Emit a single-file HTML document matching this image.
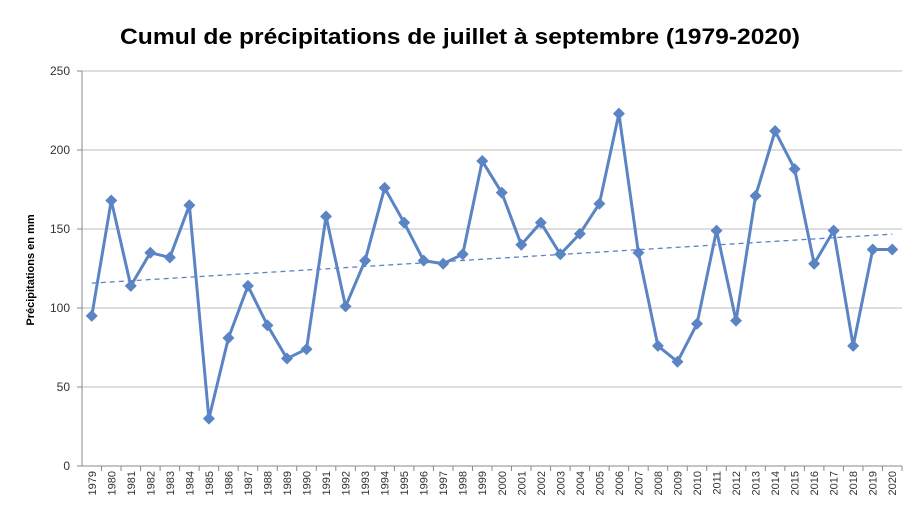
<!DOCTYPE html>
<html><head><meta charset="utf-8"><style>
body{margin:0;background:#fff;}
svg{display:block;font-family:"Liberation Sans",sans-serif;}
</style></head><body>
<svg id="chart" width="920" height="518" viewBox="0 0 920 518">
<rect x="0" y="0" width="920" height="518" fill="#fff"/>
<text x="460" y="44" text-anchor="middle" font-size="22" font-weight="bold" fill="#000" textLength="680" lengthAdjust="spacingAndGlyphs">Cumul de précipitations de juillet à septembre (1979-2020)</text>
<text transform="translate(34,270) rotate(-90)" text-anchor="middle" font-size="11" font-weight="bold" fill="#000">Précipitations en mm</text>
<g id="grid"></g><g id="axes"></g><g id="series"></g>
</svg>
<script>
const years=[1979,1980,1981,1982,1983,1984,1985,1986,1987,1988,1989,1990,1991,1992,1993,1994,1995,1996,1997,1998,1999,2000,2001,2002,2003,2004,2005,2006,2007,2008,2009,2010,2011,2012,2013,2014,2015,2016,2017,2018,2019,2020];
const precip=[95,168,114,135,132,165,30,81,114,89,68,74,158,101,130,176,154,130,128,134,193,173,140,154,134,147,166,223,135,76,66,90,149,92,171,212,188,128,149,76,137,137];
const yTicks=[0,50,100,150,200,250];
const NS="http://www.w3.org/2000/svg";
const X0=82,X1=902,Y0=466,Y1=71,YMAX=250;
const bw=(X1-X0)/years.length;
const xs=i=>X0+bw*(i+0.5);
const ys=v=>Y0-(v/YMAX)*(Y0-Y1);
function mk(t,a,p){const e=document.createElementNS(NS,t);for(const k in a)e.setAttribute(k,a[k]);p.appendChild(e);return e;}
const grid=document.getElementById('grid'),axes=document.getElementById('axes'),ser=document.getElementById('series');
yTicks.forEach(v=>{
  const l=mk('line',{x1:X0,x2:X1,y1:ys(v),y2:ys(v),stroke:v===0?'#888':'#bdbdbd','stroke-width':1},grid);
  
  
  mk('line',{x1:X0-5,x2:X0,y1:ys(v),y2:ys(v),stroke:'#888'},axes);
  const t=mk('text',{x:X0-12,y:ys(v)+4,'text-anchor':'end','font-size':12,fill:'#333'},axes);
  t.textContent=v;
  
  
});
mk('line',{x1:X0,x2:X0,y1:Y1,y2:Y0,stroke:'#888'},axes);
years.forEach((y,i)=>{
  mk('line',{x1:X0+bw*(i+1),x2:X0+bw*(i+1),y1:Y0,y2:Y0+5,stroke:'#888'},axes);
  const t=mk('text',{transform:`translate(${xs(i)+4},471) rotate(-90)`,'text-anchor':'end','font-size':11,fill:'#333'},axes);
  t.textContent=y;
  
  
});
const n=precip.length;let sx=0,sy=0,sxy=0,sxx=0;
precip.forEach((v,i)=>{sx+=i;sy+=v;sxy+=i*v;sxx+=i*i;});
const b=(n*sxy-sx*sy)/(n*sxx-sx*sx),a=(sy-b*sx)/n;
const tr=mk('line',{x1:xs(0),y1:ys(a),x2:xs(n-1),y2:ys(a+b*(n-1)),stroke:'#5b84c4','stroke-width':1.3,'stroke-dasharray':'5,4'},ser);


const pl=mk('polyline',{points:precip.map((v,i)=>xs(i)+','+ys(v)).join(' '),fill:'none',stroke:'#5b84c4','stroke-width':3,'stroke-linejoin':'round'},ser);


precip.forEach((v,i)=>{
  const x=xs(i),y=ys(v),s=6;
  const d=mk('polygon',{points:`${x},${y-s} ${x+s},${y} ${x},${y+s} ${x-s},${y}`,fill:'#5b84c4'},ser);
  
  
});
</script>
</body></html>
